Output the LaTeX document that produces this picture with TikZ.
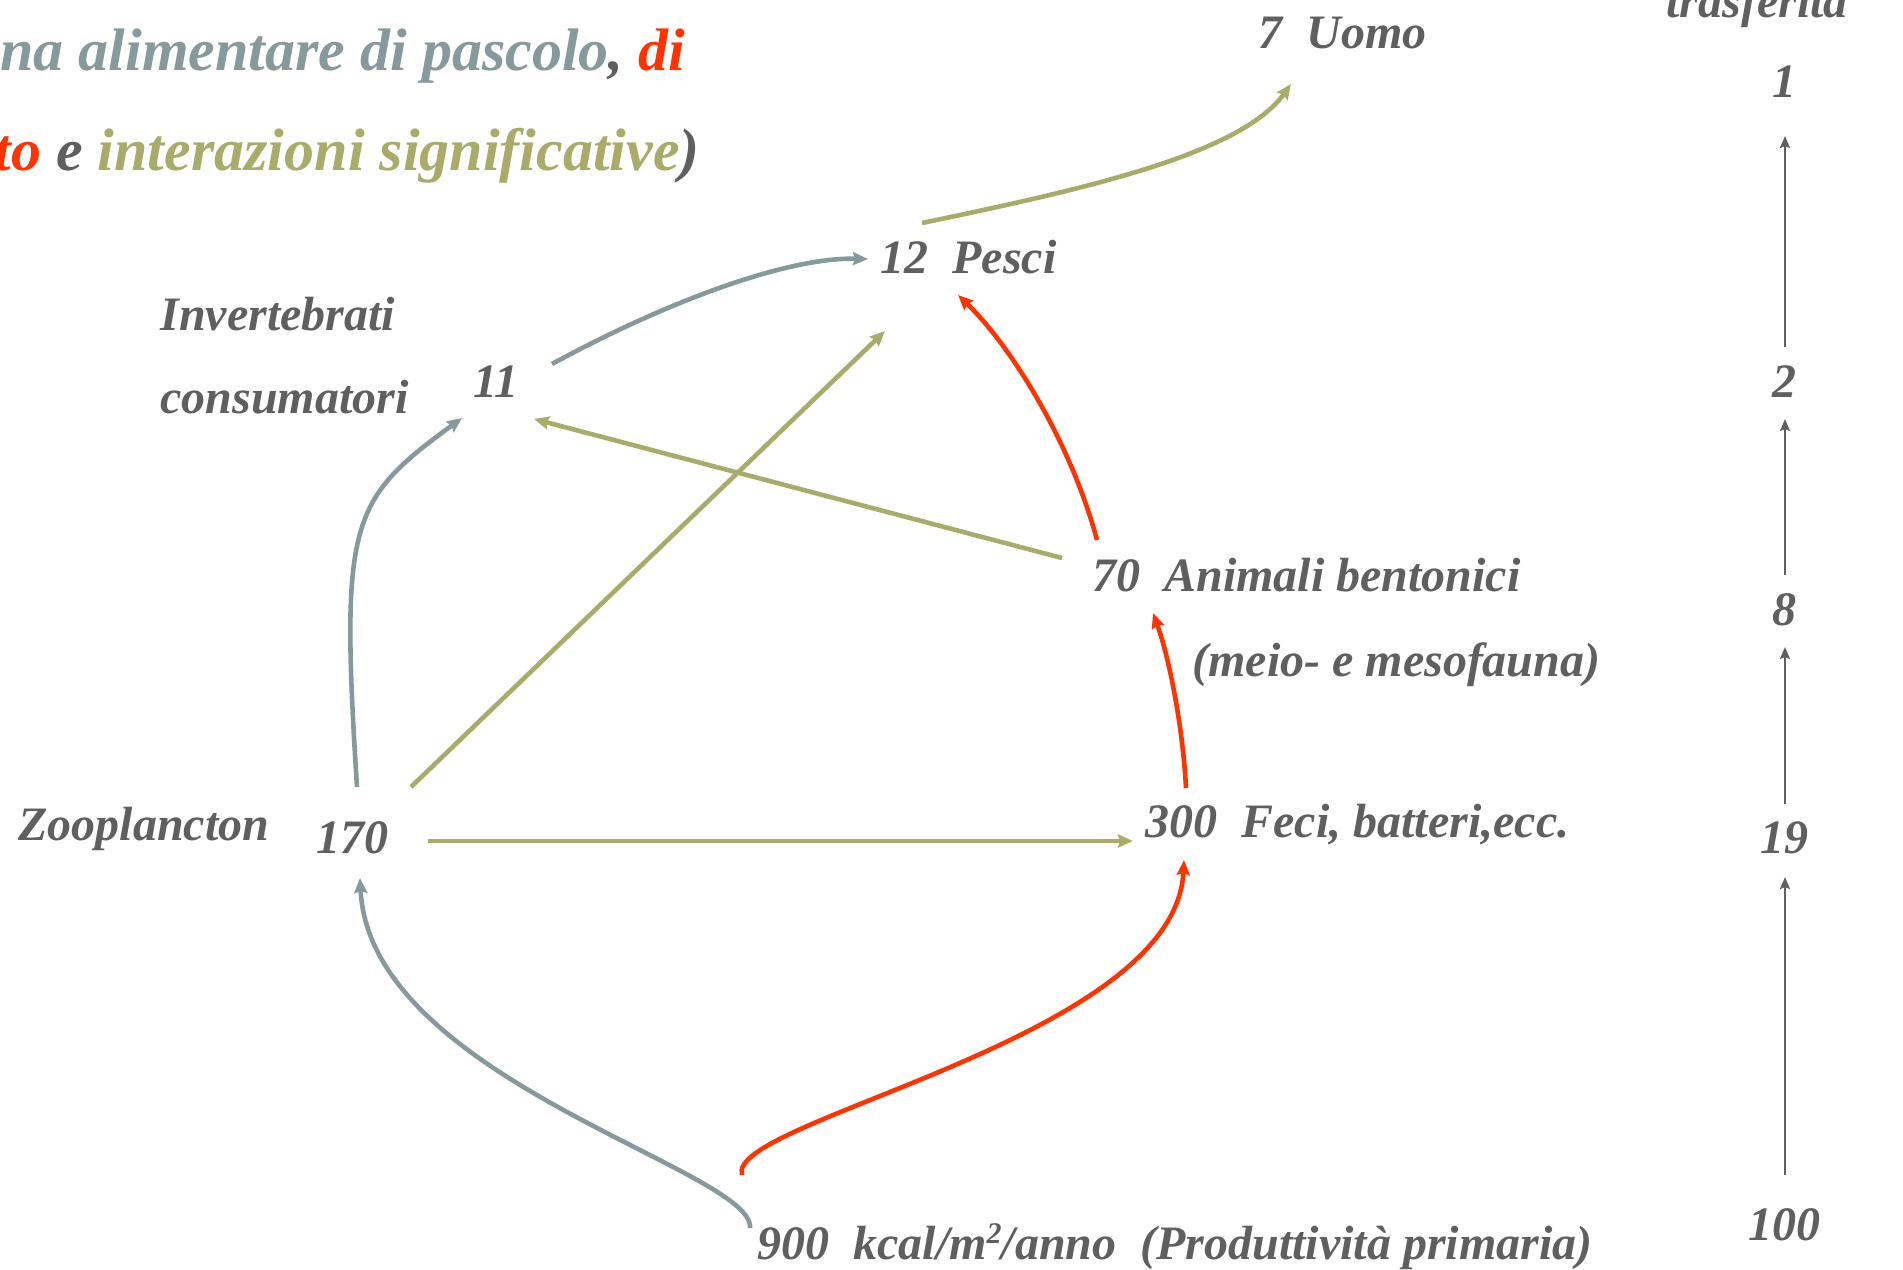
\documentclass[tikz,border=0pt]{standalone}
\usepackage{fontspec}
\setmainfont{Liberation Serif}
\usepackage{xcolor}
\usetikzlibrary{arrows.meta,calc}

\definecolor{txtgrey}{RGB}{95,95,95}
\definecolor{grazecol}{RGB}{134,154,158}
\definecolor{detcol}{RGB}{255,51,0}
\definecolor{intcol}{RGB}{168,172,104}

\newcommand{\sqm}{\raisebox{0.32em}{\fontsize{15}{15}\selectfont 2}}

\tikzset{
  lbl/.style={inner sep=0pt, anchor=base west, text=txtgrey, font=\fontsize{24}{28}\selectfont\bfseries\itshape},
  lvl/.style={inner sep=0pt, anchor=base, text=txtgrey, font=\fontsize{24}{28}\selectfont\bfseries\itshape},
  ttl/.style={inner sep=0pt, anchor=base east, font=\fontsize{30}{34}\selectfont\bfseries\itshape},
  grazing/.style={draw=grazecol, line width=2.3pt, -{Stealth[length=7.5pt,width=6.5pt,inset=1pt]}},
  detritus/.style={draw=detcol, line width=2.3pt, -{Stealth[length=7.5pt,width=6.5pt,inset=1pt]}},
  interact/.style={draw=intcol, line width=2.3pt, -{Stealth[length=7.5pt,width=6.5pt,inset=1pt]}},
  scalearrow/.style={draw=txtgrey, line width=0.9pt, -{Stealth[length=6pt,width=5pt,inset=1pt]}},
}

\begin{document}
\begin{tikzpicture}[x=0.5pt,y=0.5pt,yscale=-1,xscale=1]
\useasboundingbox (0,0) rectangle (1903,1270);

% Title
\node[ttl] (tit1) at (686,70) {\textcolor{grazecol}{na alimentare di pascolo}\textcolor{txtgrey}{,} \textcolor{detcol}{di}};
\node[ttl] (tit2) at (700,170) {\textcolor{detcol}{to} \textcolor{txtgrey}{e} \textcolor{intcol}{interazioni significative}\textcolor{txtgrey}{)}};

% Compartments
\node[lbl] (uomo) at (1258,48) {7\ \ Uomo};
\node[lbl] (pesci) at (880,273) {12\ \ Pesci};
\node[lbl] (inv) at (160,330) {Invertebrati};
\node[lbl] (cons) at (160,413) {consumatori};
\node[lbl] (n11) at (473,397) {11};
\node[lbl] (animali) at (1092,591) {70\ \ Animali bentonici};
\node[lbl] (meio) at (1192,676) {(meio- e mesofauna)};
\node[lbl] (zoo) at (18,840) {Zooplancton};
\node[lbl] (n170) at (316,853) {170};
\node[lbl] (feci) at (1145,837) {300\ \ Feci, batteri,ecc.};
\node[lbl] (prod) at (757,1259) {900\ \ kcal/m\sqm/anno\ \ (Produttività primaria)};

% Transfer scale
\node[lvl] (trasf) at (1757,17) {trasferita};
\node[lvl] (r1) at (1784,97) {1};
\node[lvl] (r2) at (1784,397) {2};
\node[lvl] (r8) at (1784,625) {8};
\node[lvl] (r19) at (1784,853) {19};
\node[lvl] (r100) at (1784,1240) {100};

\draw[scalearrow] ($(r2.base)+(1,-50)$) -- ($(r1.base)+(1,39)$);
\draw[scalearrow] ($(r8.base)+(1,-50)$) -- ($(r2.base)+(1,22)$);
\draw[scalearrow] ($(r19.base)+(1,-49)$) -- ($(r8.base)+(1,22)$);
\draw[scalearrow] ($(r100.base)+(1,-65)$) -- ($(r19.base)+(1,24)$);

% Grazing chain
\draw[grazing] ($(prod.base west)+(-7,-31)$) .. controls (755,1170) and (370,1080) .. ($(n170.base west)+(44,25)$);
\draw[grazing] ($(n170.base west)+(41,-66)$) .. controls (340,520) and (350,500) .. ($(n11.base west)+(-11,21)$);
\draw[grazing] ($(n11.base west)+(79,-33)$) .. controls (662,304) and (785,257) .. ($(pesci.base west)+(-12,-14)$);

% Detritus chain
\draw[detritus] ($(prod.base west)+(-15,-84)$) .. controls (725,1120) and (1175,1040) .. ($(feci.base west)+(39,23)$);
\draw[detritus] ($(feci.base west)+(41,-49)$) .. controls (1183,730) and (1170,660) .. ($(animali.base west)+(61,22)$);
\draw[detritus] ($(animali.base west)+(5,-51)$) .. controls (1070,440) and (1010,345) .. ($(pesci.base west)+(78,22)$);

% Interactions
\draw[interact] ($(n170.base west)+(112,-12)$) -- ($(feci.base west)+(-12,4)$);
\draw[interact] ($(n170.base west)+(95,-66)$) -- ($(pesci.base west)+(5,58)$);
\draw[interact] ($(animali.base west)+(-30,-33)$) -- ($(n11.base west)+(61,22)$);
\draw[interact] ($(pesci.base west)+(42,-50)$) .. controls (1080,190) and (1240,155) .. ($(uomo.base west)+(33,36)$);

\end{tikzpicture}
\end{document}
